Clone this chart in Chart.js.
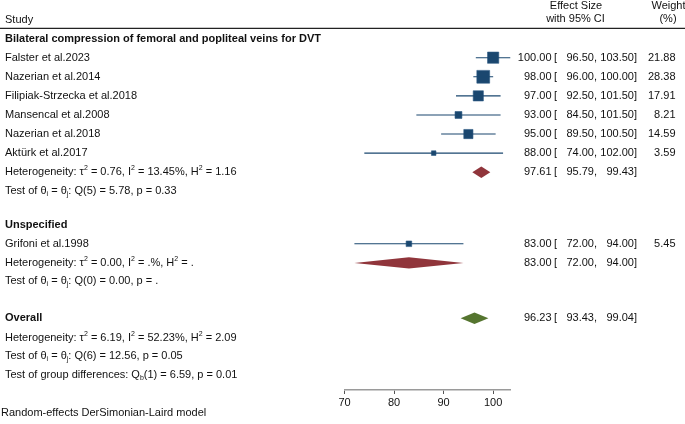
<!DOCTYPE html>
<html>
<head>
<meta charset="utf-8">
<script src="https://cdn.jsdelivr.net/npm/chart.js@4/dist/chart.umd.min.js"></script>
<style>
  html, body { margin: 0; padding: 0; background: #fff; }
</style>
</head>
<body>
<canvas id="forest" width="685" height="424"></canvas>
<script>
// studies
const studyNames = ['Falster et al.2023', 'Nazerian et al.2014', 'Filipiak-Strzecka et al.2018', 'Mansencal et al.2008',
    'Nazerian et al.2018', 'Aktürk et al.2017', 'Grifoni et al.1998'];
const studyGroup = [0, 0, 0, 0, 0, 0, 1];
const studyEst = [100.00, 98.00, 97.00, 93.00, 95.00, 88.00, 83.00];
const studyLower = [96.50, 96.00, 92.50, 84.50, 89.50, 74.00, 72.00];
const studyUpper = [103.50, 100.00, 101.50, 101.50, 100.50, 102.00, 94.00];
const studyWeight = [21.88, 28.38, 17.91, 8.21, 14.59, 3.59, 5.45];

// subgroups
const groupNames = ['Bilateral compression of femoral and popliteal veins for DVT', 'Unspecified'];
const groupEst = [97.61, 83.00];
const groupLower = [95.79, 72.00];
const groupUpper = [99.43, 94.00];
const groupHet = ['Heterogeneity: τ^{2} = 0.76, I^{2} = 13.45%, H^{2} = 1.16',
    'Heterogeneity: τ^{2} = 0.00, I^{2} = .%, H^{2} = .'];
const groupTest = ['Test of θ_{i} = θ_{j}: Q(5) = 5.78, p = 0.33',
    'Test of θ_{i} = θ_{j}: Q(0) = 0.00, p = .'];

// overall
const overallLabel = 'Overall';
const overallEst = 96.23, overallLower = 93.43, overallUpper = 99.04;
const overallHet = 'Heterogeneity: τ^{2} = 6.19, I^{2} = 52.23%, H^{2} = 2.09';
const overallTest = 'Test of θ_{i} = θ_{j}: Q(6) = 12.56, p = 0.05';
const groupDiffTest = 'Test of group differences: Q_{b}(1) = 6.59, p = 0.01';
const modelNote = 'Random-effects DerSimonian-Laird model';

// axis
const xTicks = [70, 80, 90, 100];
const xMin = 70, xMax = 103.5;

const FONT = '"Liberation Sans", Arial, Helvetica, sans-serif';
const NAVY = '#1a476f', MAROON = '#90353b', GREEN = '#55752f';

// row layout (in row units, top to bottom)
const rows = [];
const studyRow = [];
const pooledRow = [];
let r = 0;
groupNames.forEach((g, gi) => {
    rows.push({kind: 'group', text: g, y: r});
    r += 1;
    studyNames.forEach((s, i) => {
        if (studyGroup[i] !== gi) return;
        studyRow[i] = r;
        rows.push({kind: 'study', i: i, y: r});
        r += 1;
    });
    pooledRow[gi] = r;
    rows.push({kind: 'pooled', gi: gi, y: r});
    rows.push({kind: 'note', text: groupTest[gi], y: r + 0.97});
    r += 2.75;
});
const overallRow = r + 0.15;
rows.push({kind: 'overall', y: overallRow});
rows.push({kind: 'note', text: overallHet, y: overallRow + 1.05});
rows.push({kind: 'note', text: overallTest, y: overallRow + 2});
rows.push({kind: 'note', text: groupDiffTest, y: overallRow + 2.95});

// tiny rich text: ^{..} superscript, _{..} subscript
function drawRich(ctx, str, x, y, size) {
    const parts = [];
    const re = /([\^_])\{([^}]*)\}/g;
    let last = 0, m;
    while ((m = re.exec(str))) {
        if (m.index > last) parts.push({t: str.slice(last, m.index), k: ''});
        parts.push({t: m[2], k: m[1]});
        last = re.lastIndex;
    }
    if (last < str.length) parts.push({t: str.slice(last), k: ''});
    let cx = x;
    parts.forEach(p => {
        const s = p.k ? Math.round(size * 0.62) : size;
        ctx.font = s + 'px ' + FONT;
        const dy = p.k === '^' ? -size * 0.38 : (p.k === '_' ? size * 0.28 : 0);
        ctx.fillText(p.t, cx, y + dy);
        cx += ctx.measureText(p.t).width;
    });
}

function effectText(ctx, x0, y, est, lo, hi, w) {
    ctx.font = '11px ' + FONT;
    ctx.textAlign = 'right';
    ctx.fillText(est.toFixed(2), x0 + 41, y);
    ctx.textAlign = 'left';
    ctx.fillText('[', x0 + 43.5, y);
    ctx.textAlign = 'right';
    ctx.fillText(lo.toFixed(2) + ',', x0 + 86.5, y);
    ctx.fillText(hi.toFixed(2) + ']', x0 + 126.5, y);
    if (w !== undefined) ctx.fillText(w.toFixed(2), x0 + 165, y);
    ctx.textAlign = 'left';
}

function diamond(ctx, xs, ys, est, lo, hi, row, color) {
    const h = 0.3;
    ctx.beginPath();
    ctx.moveTo(xs.getPixelForValue(lo), ys.getPixelForValue(row));
    ctx.lineTo(xs.getPixelForValue(est), ys.getPixelForValue(row - h));
    ctx.lineTo(xs.getPixelForValue(hi), ys.getPixelForValue(row));
    ctx.lineTo(xs.getPixelForValue(est), ys.getPixelForValue(row + h));
    ctx.closePath();
    ctx.fillStyle = color;
    ctx.fill();
}

const forestPlugin = {
    id: 'forestText',
    afterDatasetsDraw(chart) {
        const ctx = chart.ctx;
        const xs = chart.scales.x, ys = chart.scales.y;
        const area = chart.chartArea;
        ctx.save();
        ctx.fillStyle = '#111';
        ctx.textBaseline = 'middle';

        // header
        ctx.font = '11px ' + FONT;
        ctx.textAlign = 'left';
        ctx.fillText('Study', 5, area.top - 8.5);
        ctx.textAlign = 'center';
        ctx.fillText('Effect Size', area.right + 65.5, area.top - 22.5);
        ctx.fillText('with 95% CI', area.right + 65, area.top - 9.5);
        ctx.fillText('Weight', area.right + 158, area.top - 22.5);
        ctx.fillText('(%)', area.right + 157.5, area.top - 9.5);
        ctx.strokeStyle = '#222';
        ctx.lineWidth = 1.2;
        ctx.beginPath();
        ctx.moveTo(0, area.top);
        ctx.lineTo(chart.width, area.top);
        ctx.stroke();

        // diamonds
        groupNames.forEach((g, gi) => diamond(ctx, xs, ys, groupEst[gi], groupLower[gi], groupUpper[gi], pooledRow[gi], MAROON));
        diamond(ctx, xs, ys, overallEst, overallLower, overallUpper, overallRow, GREEN);

        ctx.fillStyle = '#111';
        ctx.textAlign = 'left';
        rows.forEach(row => {
            const y = ys.getPixelForValue(row.y);
            if (row.kind === 'group') {
                ctx.font = 'bold 11px ' + FONT;
                ctx.fillText(row.text, 5, y);
            } else if (row.kind === 'study') {
                ctx.font = '11px ' + FONT;
                ctx.fillText(studyNames[row.i], 5, y);
                effectText(ctx, area.right, y, studyEst[row.i], studyLower[row.i], studyUpper[row.i], studyWeight[row.i]);
            } else if (row.kind === 'pooled') {
                drawRich(ctx, groupHet[row.gi], 5, y, 11);
                effectText(ctx, area.right, y, groupEst[row.gi], groupLower[row.gi], groupUpper[row.gi]);
            } else if (row.kind === 'overall') {
                ctx.font = 'bold 11px ' + FONT;
                ctx.fillText(overallLabel, 5, y);
                effectText(ctx, area.right, y, overallEst, overallLower, overallUpper);
            } else {
                drawRich(ctx, row.text, 5, y, 11);
            }
        });

        ctx.font = '11px ' + FONT;
        ctx.textAlign = 'left';
        ctx.fillText(modelNote, 1, area.bottom + 23);
        ctx.restore();
    }
};

const datasets = [];
// confidence intervals
studyNames.forEach((s, i) => {
    datasets.push({
        type: 'line',
        data: [{x: studyLower[i], y: studyRow[i]}, {x: studyUpper[i], y: studyRow[i]}],
        borderColor: NAVY,
        borderWidth: 1.1,
        pointRadius: 0,
        fill: false
    });
});
// weighted squares
datasets.push({
    type: 'scatter',
    data: studyEst.map((v, i) => ({x: v, y: studyRow[i]})),
    pointStyle: 'rect',
    pointRadius: studyWeight.map(w => 1.7 * Math.sqrt(w)),
    backgroundColor: NAVY,
    borderColor: '#2e5a85',
    borderWidth: 0.6
});

new Chart(document.getElementById('forest'), {
    type: 'scatter',
    data: {datasets: datasets},
    options: {
        responsive: false,
        animation: false,
        events: [],
        layout: {padding: {left: 344.5, right: 174.5, top: 28.3, bottom: 14}},
        plugins: {legend: {display: false}, tooltip: {enabled: false}},
        scales: {
            x: {
                type: 'linear',
                min: xMin,
                max: xMax,
                afterBuildTicks: s => { s.ticks = xTicks.map(v => ({value: v})); },
                afterFit: s => { s.height = 20; },
                grid: {drawOnChartArea: false, drawTicks: true, tickLength: 4, color: '#555', lineWidth: 1},
                border: {display: true, color: '#9a9a9a', width: 1.6},
                ticks: {color: '#111', font: {family: FONT, size: 11}, padding: 2, maxRotation: 0, autoSkip: false}
            },
            y: {
                type: 'linear',
                reverse: true,
                min: -0.54,
                max: 18.41,
                display: false
            }
        }
    },
    plugins: [forestPlugin]
});
</script>
</body>
</html>
